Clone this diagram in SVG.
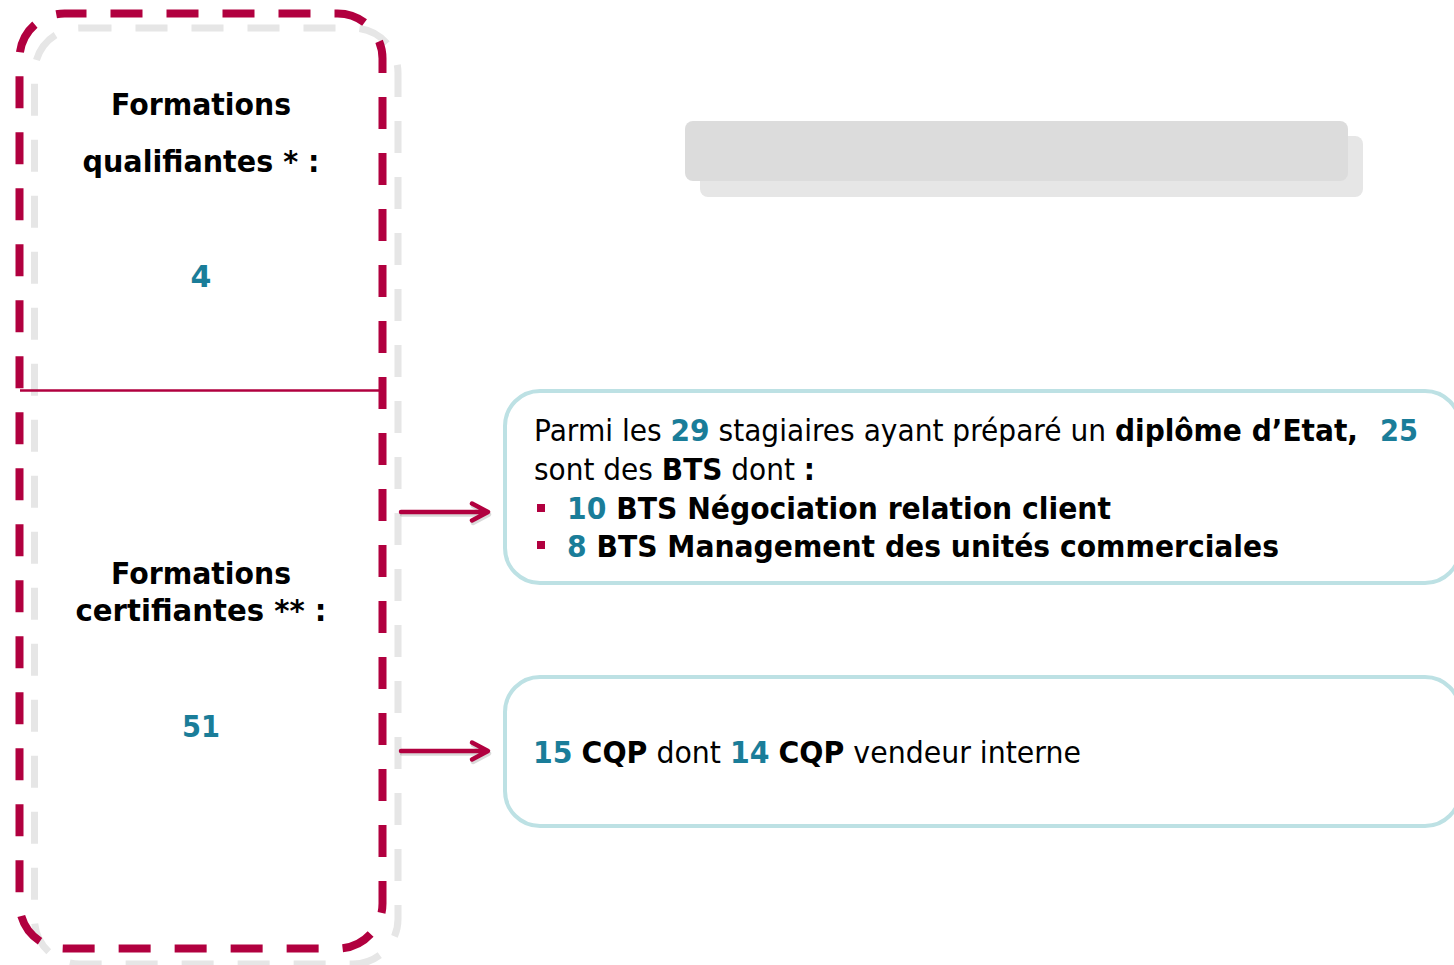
<svg xmlns="http://www.w3.org/2000/svg" width="1454" height="965" viewBox="0 0 1454 965">
<style>
.t{font-family:"DejaVu Sans","Liberation Sans",sans-serif;font-size:30px;fill:#000}
.b{font-weight:bold}
.n{fill:#1a7d99;font-weight:bold}
.box{fill:#fff;stroke:#bde1e4;stroke-width:4}
.arr{fill:none;stroke:#b1003f;stroke-width:4.5;stroke-linecap:round;stroke-linejoin:round}
.arrs{fill:none;stroke:#000;stroke-opacity:0.15;stroke-width:4.5;stroke-linecap:round;stroke-linejoin:round}
</style>
<rect width="1454" height="965" fill="#fff"/>
<g id="group">
<rect x="34.5" y="28" width="363.5" height="936" rx="45" fill="none" stroke="#e6e6e6" stroke-width="7" stroke-dasharray="32 24"/>
<rect x="19.5" y="13.5" width="363" height="935" rx="45" fill="none" stroke="#b1003f" stroke-width="8" stroke-dasharray="32 24" stroke-dashoffset="10"/>
<line x1="20" y1="390.5" x2="382" y2="390.5" stroke="#b1003f" stroke-width="2.5"/>
</g>
<g id="qualifiantes">
<text class="t b" x="201" y="115" text-anchor="middle" textLength="180" lengthAdjust="spacingAndGlyphs">Formations</text>
<text class="t b" x="201" y="172" text-anchor="middle" textLength="237" lengthAdjust="spacingAndGlyphs">qualifiantes * :</text>
<text class="t n" x="201" y="287" text-anchor="middle">4</text>
</g>
<g id="certifiantes">
<text class="t b" x="201" y="584" text-anchor="middle" textLength="180" lengthAdjust="spacingAndGlyphs">Formations</text>
<text class="t b" x="201" y="621" text-anchor="middle" textLength="251" lengthAdjust="spacingAndGlyphs">certifiantes ** :</text>
<text class="t n" x="201" y="737" text-anchor="middle" textLength="38" lengthAdjust="spacingAndGlyphs">51</text>
</g>
<g id="title-bar">
<rect x="700" y="136" width="663" height="61" rx="8" fill="#e6e6e6"/>
<rect x="685" y="121" width="663" height="60" rx="8" fill="#dcdcdc"/>
</g>
<g id="connectors">
<path class="arrs" d="M402 514.5 H487 M473 506 L489 514.5 L473 523"/>
<path class="arr" d="M401 512 H486 M472 503.5 L488 512 L472 520.5"/>
<path class="arrs" d="M402 753.5 H487 M473 745 L489 753.5 L473 762"/>
<path class="arr" d="M401 751 H486 M472 742.5 L488 751 L472 759.5"/>
</g>
<g id="bts-box">
<rect class="box" x="505" y="391" width="955" height="192" rx="35"/>
<text class="t" x="534" y="441" textLength="824" lengthAdjust="spacingAndGlyphs">Parmi les <tspan class="n">29</tspan> stagiaires ayant préparé un <tspan class="b">diplôme d’Etat,</tspan></text>
<text class="t n" x="1380" y="441" textLength="38" lengthAdjust="spacingAndGlyphs">25</text>
<text class="t" x="534" y="480" textLength="281" lengthAdjust="spacingAndGlyphs">sont des <tspan class="b">BTS</tspan> dont <tspan class="b">:</tspan></text>
<rect x="537" y="504" width="8" height="8" fill="#b1003f"/>
<text class="t b" x="567" y="519" textLength="544" lengthAdjust="spacingAndGlyphs"><tspan class="n">10</tspan> BTS Négociation relation client</text>
<rect x="537" y="541" width="8" height="8" fill="#b1003f"/>
<text class="t b" x="567" y="557" textLength="712" lengthAdjust="spacingAndGlyphs"><tspan class="n">8</tspan> BTS Management des unités commerciales</text>
</g>
<g id="cqp-box">
<rect class="box" x="505" y="677" width="955" height="149" rx="35"/>
<text class="t" x="533" y="763" textLength="548" lengthAdjust="spacingAndGlyphs"><tspan class="n">15</tspan> <tspan class="b">CQP</tspan> dont <tspan class="n">14</tspan> <tspan class="b">CQP</tspan> vendeur interne</text>
</g>
</svg>
